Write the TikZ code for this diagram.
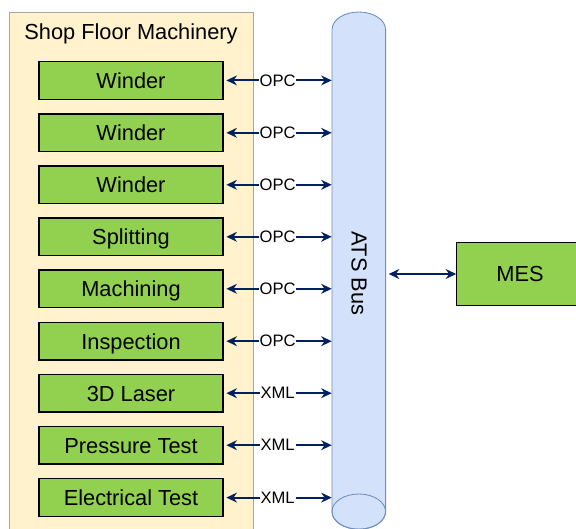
\documentclass[tikz,border=0pt]{standalone}
\usepackage{fontspec}
\setmainfont{Liberation Sans}
\usetikzlibrary{arrows.meta}
\definecolor{navyline}{RGB}{0,32,96}
\definecolor{machgreen}{RGB}{146,208,80}
\definecolor{floorbeige}{RGB}{255,242,204}
\definecolor{busblue}{RGB}{212,225,250}
\definecolor{busedge}{RGB}{108,142,191}
\begin{document}
\begin{tikzpicture}
    \tikzstyle{machine} = [rectangle, draw, line width=0.8pt, fill=machgreen, minimum width=4.6cm, minimum height=0.94cm, inner sep=0pt, text height=0.4cm, text depth=0cm, font=\fontsize{15.5}{18}\selectfont]
    \tikzstyle{arrow} = [line width=1.5pt, navyline, {Stealth[length=7.5pt,width=7pt]}-{Stealth[length=7.5pt,width=7pt]}, shorten <=2pt]
    \tikzstyle{proto} = [fill=white, inner sep=0.6pt, text=black, font=\fontsize{11.8}{14}\selectfont]

    \useasboundingbox (0,0) rectangle (14.4,-13.225);
    \clip (0,0) rectangle (14.4,-13.225);

    % Shop floor panel
    \draw[fill=floorbeige, draw=gray!70, line width=0.5pt] (0.225,-0.31) rectangle (6.325,-13.6);
    \node[anchor=base, font=\fontsize{15.5}{18}\selectfont] (title) at (3.275,-0.985) {Shop Floor Machinery};

    % ATS bus
    \draw[fill=busblue, draw=busedge, line width=0.6pt] (8.3,-12.79) -- (8.3,-0.74)
        arc[start angle=180, end angle=0, x radius=0.67cm, y radius=0.44cm] -- (9.64,-12.79)
        arc[start angle=0, end angle=-180, x radius=0.67cm, y radius=0.44cm] -- cycle;
    \draw[draw=busedge, line width=0.6pt] (8.97,-12.79) ellipse [x radius=0.67, y radius=0.44];
    \node[minimum width=1.34cm, minimum height=12cm, inner sep=0pt] (bus) at (8.97,-6.83) {};
    \node[rotate=-90, font=\fontsize{15.5}{18}\selectfont] (buslabel) at (8.975,-6.83) {ATS Bus};

    % Machines
    \node [machine] (winderA) at (3.275,-2.01) {Winder};
    \node [machine] (winderB) at (3.275,-3.32) {Winder};
    \node [machine] (winderC) at (3.275,-4.62) {Winder};
    \node [machine] (splitting) at (3.275,-5.92) {Splitting};
    \node [machine] (machining) at (3.275,-7.22) {Machining};
    \node [machine] (inspection) at (3.275,-8.53) {Inspection};
    \node [machine] (laser) at (3.275,-9.83) {3D Laser};
    \node [machine] (pressure) at (3.275,-11.13) {Pressure Test};
    \node [machine] (electrical) at (3.275,-12.44) {Electrical Test};

    % MES
    \node [machine, minimum width=3.16cm, minimum height=1.59cm] (mes) at (13.0,-6.85) {MES};

    % Links to the bus
    \draw[arrow] (winderA.east) -- node[proto] {OPC} (winderA.east -| bus.west);
    \draw[arrow] (winderB.east) -- node[proto] {OPC} (winderB.east -| bus.west);
    \draw[arrow] (winderC.east) -- node[proto] {OPC} (winderC.east -| bus.west);
    \draw[arrow] (splitting.east) -- node[proto] {OPC} (splitting.east -| bus.west);
    \draw[arrow] (machining.east) -- node[proto] {OPC} (machining.east -| bus.west);
    \draw[arrow] (inspection.east) -- node[proto] {OPC} (inspection.east -| bus.west);
    \draw[arrow] (laser.east) -- node[proto] {XML} (laser.east -| bus.west);
    \draw[arrow] (pressure.east) -- node[proto] {XML} (pressure.east -| bus.west);
    \draw[arrow] (electrical.east) -- node[proto] {XML} (electrical.east -| bus.west);
    \draw[arrow] (mes.west -| bus.east) -- (mes.west);

\end{tikzpicture}
\end{document}
